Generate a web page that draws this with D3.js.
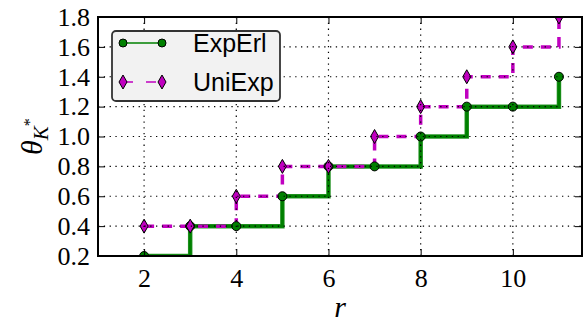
<!DOCTYPE html>
<html>
<head>
<meta charset="utf-8">
<script src="https://cdn.jsdelivr.net/npm/d3@7"></script>
<style>
  body { margin: 0; background: #fff; }
</style>
</head>
<body>
<div id="chart"></div>
<script>
var svgWidth = 587;
var svgHeight = 325;

var margin = { top: 17, right: 5, bottom: 69, left: 98 };
var width = svgWidth - margin.left - margin.right;
var height = svgHeight - margin.top - margin.bottom;

// data
var rValues = [2, 3, 4, 5, 6, 7, 8, 9, 10, 11];
var expErl = [0.2, 0.4, 0.4, 0.6, 0.8, 0.8, 1.0, 1.2, 1.2, 1.4];
var uniExp = [0.4, 0.4, 0.6, 0.8, 0.8, 1.0, 1.2, 1.4, 1.6, 1.8];
var xTicks = [2, 4, 6, 8, 10];
var yTicks = [0.2, 0.4, 0.6, 0.8, 1.0, 1.2, 1.4, 1.6, 1.8];
var seriesNames = ["ExpErl", "UniExp"];

var green = "#008000";
var magenta = "#c000c0";
var serif = "Liberation Serif";

var svg = d3.select("#chart")
  .append("svg")
  .attr("width", svgWidth)
  .attr("height", svgHeight);

var chartGroup = svg.append("g")
  .attr("transform", `translate(${margin.left}, ${margin.top})`);

var xScale = d3.scaleLinear().domain([1, 11.5]).range([0, width]);
var yScale = d3.scaleLinear().domain([0.2, 1.8]).range([height, 0]);

chartGroup.append("clipPath").attr("id", "clip")
  .append("rect").attr("width", width).attr("height", height);

var plot = chartGroup.append("g").attr("clip-path", "url(#clip)");

var stepLine = d3.line()
  .x(d => xScale(d[0]))
  .y(d => yScale(d[1]))
  .curve(d3.curveStepAfter);

var erlData = rValues.map((r, i) => [r, expErl[i]]);
var uniData = rValues.map((r, i) => [r, uniExp[i]]);

// ExpErl solid green
plot.append("path")
  .datum(erlData)
  .attr("d", stepLine)
  .attr("fill", "none")
  .attr("stroke", "#2a962a")
  .attr("stroke-width", 4.5);
plot.append("path")
  .datum(erlData)
  .attr("d", stepLine)
  .attr("fill", "none")
  .attr("stroke", green)
  .attr("stroke-width", 3);

// UniExp dashed magenta
plot.append("path")
  .datum(uniData)
  .attr("d", stepLine)
  .attr("fill", "none")
  .attr("stroke", magenta)
  .attr("stroke-width", 3.5)
  .attr("stroke-dasharray", "10,8");

function diamond(sel, cx, cy) {
  sel.append("path")
    .attr("d", `M${cx},${cy - 7} L${cx + 4},${cy} L${cx},${cy + 7} L${cx - 4},${cy} Z`)
    .attr("fill", magenta)
    .attr("stroke", "#000")
    .attr("stroke-width", 1);
}

plot.selectAll("circle.erl")
  .data(erlData)
  .enter()
  .append("circle")
  .attr("class", "erl")
  .attr("cx", d => xScale(d[0]))
  .attr("cy", d => yScale(d[1]))
  .attr("r", 4.5)
  .attr("fill", green)
  .attr("stroke", "#000")
  .attr("stroke-width", 1);

uniData.forEach(d => diamond(plot, xScale(d[0]), yScale(d[1])));

// dotted grid on top
var grid = chartGroup.append("g")
  .attr("stroke", "#000")
  .attr("stroke-width", 1.2)
  .attr("stroke-dasharray", "1.3,4.5");
xTicks.forEach(t => {
  grid.append("line")
    .attr("x1", xScale(t)).attr("x2", xScale(t))
    .attr("y1", 0).attr("y2", height);
});
yTicks.forEach(t => {
  grid.append("line")
    .attr("x1", 0).attr("x2", width)
    .attr("y1", yScale(t)).attr("y2", yScale(t));
});

// axes with inward ticks
var bottomAxis = d3.axisBottom(xScale).tickValues(xTicks).tickSize(-7).tickPadding(13);
var leftAxis = d3.axisLeft(yScale).tickValues(yTicks).tickSize(-7).tickPadding(8)
  .tickFormat(d3.format(".1f"));
var topAxis = d3.axisTop(xScale).tickValues(xTicks).tickSize(-7).tickFormat("");
var rightAxis = d3.axisRight(yScale).tickValues(yTicks).tickSize(-7).tickFormat("");

var axes = [
  chartGroup.append("g").attr("transform", `translate(0, ${height})`).call(bottomAxis),
  chartGroup.append("g").call(leftAxis),
  chartGroup.append("g").call(topAxis),
  chartGroup.append("g").attr("transform", `translate(${width}, 0)`).call(rightAxis)
];
axes.forEach(a => {
  a.attr("font-family", serif).attr("font-size", 26);
  a.select(".domain").remove();
  a.selectAll(".tick line").attr("stroke", "#000").attr("stroke-width", 1);
  a.selectAll(".tick text").attr("fill", "#000");
});

// frame
chartGroup.append("rect")
  .attr("width", width)
  .attr("height", height)
  .attr("fill", "none")
  .attr("stroke", "#000")
  .attr("stroke-width", 2);

// axis labels
svg.append("text")
  .attr("x", xScale(6.25) + margin.left)
  .attr("y", 317)
  .attr("text-anchor", "middle")
  .attr("font-family", serif)
  .attr("font-style", "italic")
  .attr("font-size", 30)
  .text("r");

var yLabel = svg.append("text")
  .attr("transform", `translate(42, ${margin.top + height / 2}) rotate(-90)`)
  .attr("text-anchor", "middle")
  .attr("font-family", serif)
  .attr("font-style", "italic")
  .attr("font-size", 30);
yLabel.append("tspan").text("θ");
yLabel.append("tspan").attr("dy", 6).attr("font-size", 21).text("K");
yLabel.append("tspan").attr("dy", -13).attr("font-size", 16).attr("font-style", "normal").text("*");

// legend
var legend = svg.append("g");
legend.append("rect")
  .attr("x", 112).attr("y", 31)
  .attr("width", 168).attr("height", 70)
  .attr("rx", 4)
  .attr("fill", "#f2f2f2")
  .attr("stroke", "#333")
  .attr("stroke-width", 1.8);

var legY = [43, 82];
legend.append("line")
  .attr("x1", 123).attr("x2", 162)
  .attr("y1", legY[0]).attr("y2", legY[0])
  .attr("stroke", green).attr("stroke-width", 1.5);
[123, 162].forEach(lx => {
  legend.append("circle")
    .attr("cx", lx).attr("cy", legY[0]).attr("r", 4)
    .attr("fill", green).attr("stroke", "#000").attr("stroke-width", 1);
});
legend.append("line")
  .attr("x1", 123).attr("x2", 162)
  .attr("y1", legY[1]).attr("y2", legY[1])
  .attr("stroke", magenta).attr("stroke-width", 1.5)
  .attr("stroke-dasharray", "10,13");
[123, 162].forEach(lx => diamond(legend, lx, legY[1]));

seriesNames.forEach((name, i) => {
  legend.append("text")
    .attr("x", 193)
    .attr("y", legY[i] + 9)
    .attr("font-family", "Liberation Sans")
    .attr("font-size", 25)
    .text(name);
});
</script>
</body>
</html>
